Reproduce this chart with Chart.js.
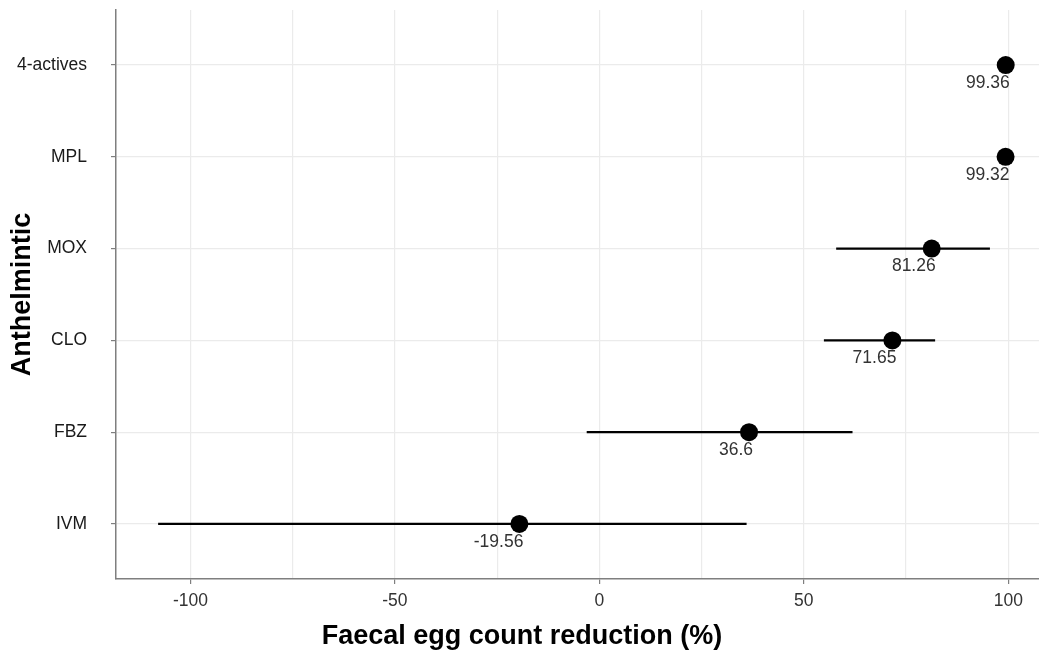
<!DOCTYPE html>
<html>
<head>
<meta charset="utf-8">
<script src="https://cdn.jsdelivr.net/npm/chart.js@4.4.0/dist/chart.umd.min.js"></script>
<style>
  html, body { margin: 0; padding: 0; background: #fff; }
</style>
</head>
<body>
<canvas id="fecrChart" width="1039" height="652"></canvas>
<script>
// anthelmintics, top to bottom
const categories = ['4-actives', 'MPL', 'MOX', 'CLO', 'FBZ', 'IVM']
const estimates = [99.36, 99.32, 81.26, 71.65, 36.6, -19.56]
const lower = [98.4, 98.2, 57.9, 54.9, -3.1, -107.9]
const upper = [99.8, 99.8, 95.5, 82.1, 61.9, 36.0]
const xTicks = [-100, -75, -50, -25, 0, 25, 50, 75, 100]
const xTickLabels = ['-100', '', '-50', '', '0', '', '50', '', '100']

const FONT = '"Liberation Sans", Arial, sans-serif'
Chart.defaults.font.family = FONT

const rowOf = i => categories.length - 1 - i

const pointSet = {
    label: 'FECR',
    data: estimates.map((v, i) => ({ x: v, y: rowOf(i) })),
    pointRadius: 9,
    pointBackgroundColor: '#000',
    pointBorderWidth: 0,
}

const ciSets = categories.map((c, i) => ({
    label: c + ' CI',
    data: [{ x: lower[i], y: rowOf(i) }, { x: upper[i], y: rowOf(i) }],
    showLine: true,
    borderColor: '#000',
    borderWidth: 2.2,
    borderCapStyle: 'butt',
    pointRadius: 0,
}))

// value under each point
const valueLabels = {
    id: 'valueLabels',
    afterDatasetsDraw(chart) {
        const ctx = chart.ctx
        const meta = chart.getDatasetMeta(0)
        ctx.save()
        ctx.font = '17.5px ' + FONT
        ctx.fillStyle = '#333'
        ctx.textAlign = 'right'
        ctx.textBaseline = 'middle'
        meta.data.forEach((pt, i) => ctx.fillText(String(estimates[i]), pt.x + 4, pt.y + 18))
        ctx.restore()
    }
}

// x axis title sits a bit left of the panel centre in the original
const xTitle = {
    id: 'xTitle',
    afterDraw(chart) {
        const ctx = chart.ctx
        ctx.save()
        ctx.font = 'bold 27px ' + FONT
        ctx.fillStyle = '#000'
        ctx.textAlign = 'center'
        ctx.textBaseline = 'middle'
        ctx.fillText('Faecal egg count reduction (%)', chart.chartArea.left + 406, 637)
        ctx.restore()
    }
}

const fecrChart = new Chart(document.getElementById('fecrChart'), {
    type: 'scatter',
    data: { datasets: [pointSet, ...ciSets] },
    options: {
        responsive: false,
        animation: false,
        devicePixelRatio: 1,
        layout: { autoPadding: false, padding: { top: 10, right: 0, bottom: 0, left: 0 } },
        plugins: {
            legend: { display: false },
            tooltip: { enabled: false },
        },
        scales: {
            x: {
                type: 'linear',
                min: -118.2,
                max: 107.5,
                afterBuildTicks: s => { s.ticks = xTicks.map(v => ({ value: v })) },
                afterFit: s => {
                    s.height = 73
                    s.paddingLeft = 0
                    s.paddingRight = 0
                },
                grid: {
                    color: '#ebebeb',
                    lineWidth: 1.2,
                    tickLength: 5,
                    tickColor: ctx => xTickLabels[ctx.index] ? '#7f7f7f' : 'rgba(0,0,0,0)',
                },
                border: { color: '#7f7f7f', width: 1.5 },
                ticks: {
                    color: '#333',
                    font: { size: 17.5 },
                    padding: 7,
                    autoSkip: false,
                    maxRotation: 0,
                    callback: (v, i) => xTickLabels[i],
                },
            },
            y: {
                type: 'linear',
                min: -0.6,
                max: 5.6,
                afterBuildTicks: s => {
                    s.ticks = categories.map((c, i) => ({ value: rowOf(i) })).reverse()
                },
                afterFit: s => {
                    s.width = 116
                    s.paddingTop = 0
                    s.paddingBottom = 0
                },
                grid: {
                    color: '#ebebeb',
                    lineWidth: 1.2,
                    tickLength: 5,
                    tickColor: '#7f7f7f',
                },
                border: { color: '#7f7f7f', width: 1.5 },
                ticks: {
                    color: '#1a1a1a',
                    font: { size: 17.5 },
                    padding: 24,
                    autoSkip: false,
                    callback: v => categories[rowOf(v)],
                },
                title: {
                    display: true,
                    text: 'Anthelmintic',
                    color: '#000',
                    font: { size: 27, weight: 'bold' },
                    padding: { top: 6, bottom: 0 },
                },
            },
        },
    },
    plugins: [valueLabels, xTitle],
})
</script>
</body>
</html>
